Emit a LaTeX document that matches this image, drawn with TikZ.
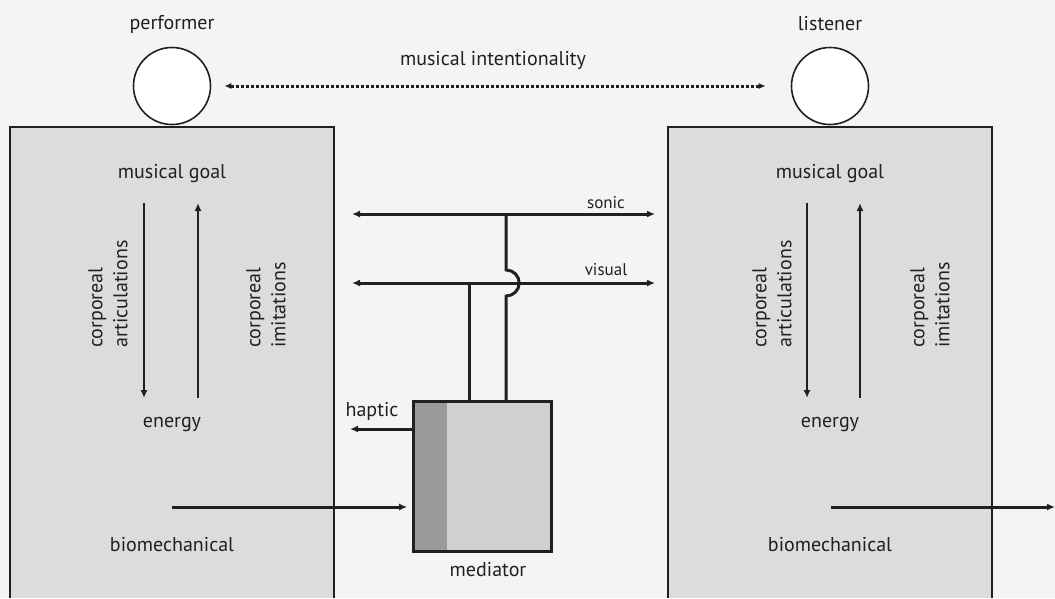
\documentclass[tikz,border=0pt]{standalone}
\usepackage{fontspec}
\setmainfont{PT Sans}
\usetikzlibrary{arrows.meta}
\definecolor{bg}{HTML}{F4F4F4}
\definecolor{bodyfill}{HTML}{DCDCDC}
\definecolor{medlight}{HTML}{D0D0D0}
\definecolor{meddark}{HTML}{9A9A9A}
\definecolor{ink}{HTML}{231F20}
\begin{document}
\begin{tikzpicture}[x=1pt,y=-1pt,
  lbl/.style={font=\fontsize{20}{25}\selectfont, text=ink, inner sep=0pt},
  smalllbl/.style={font=\fontsize{17}{20}\selectfont, text=ink, inner sep=0pt},
  conn/.style={draw=ink, line width=3pt},
  tipend/.style={-{Latex[length=8pt,width=7pt]}},
  tipboth/.style={{Latex[length=8pt,width=7pt]}-{Latex[length=8pt,width=7pt]}},
  head/.style={circle, draw=ink, fill=white, line width=1.6pt, minimum size=77pt, inner sep=0pt},
  bodyedge/.style={draw=ink, line width=1.6pt}]
% canvas
\fill[bg] (0,0) rectangle (1055,598);
\useasboundingbox (0,0) rectangle (1055,598);

% bodies (open at the bottom)
\fill[bodyfill] (10,127) rectangle (334,598);
\draw[bodyedge] (10,598) -- (10,127) -- (334,127) -- (334,598);
\fill[bodyfill] (668,127) rectangle (992,598);
\draw[bodyedge] (668,598) -- (668,127) -- (992,127) -- (992,598);

% heads and names
\node[lbl] (performer) at (172,24) {performer};
\node[lbl] (listener) at (830,24) {listener};
\node[head] (phead) at (172,86) {};
\node[head] (lhead) at (830,86) {};
\draw[draw=ink, line width=3pt, dotted, {Latex[length=7pt,width=6pt]}-{Latex[length=7pt,width=6pt]}, shorten <=13pt, shorten >=25pt] (phead) -- (lhead);
\node[lbl] (intent) at (493,60) {musical intentionality};

% performer body
\node[lbl] (pgoal) at (172,174) {musical goal};
\node[lbl] (penergy) at (172,424) {energy};
\node[lbl] (pbio) at (172,545) {biomechanical};
\coordinate (pdtop) at (144,203);
\coordinate (pdbot) at (144,398);
\coordinate (putop) at (198,203);
\coordinate (pubot) at (198,398);
\draw[conn, line width=2.6pt, tipend] (pdtop) -- (pdbot);
\draw[conn, line width=2.6pt, tipend] (pubot) -- (putop);
\node[lbl, rotate=90, anchor=west, align=left] (partic) at (108,348) {corporeal\\articulations};
\node[lbl, rotate=90, anchor=west, align=left] (pimit) at (266,348) {corporeal\\imitations};

% listener body
\node[lbl] (lgoal) at (830,174) {musical goal};
\node[lbl] (lenergy) at (830,424) {energy};
\node[lbl] (lbio) at (830,545) {biomechanical};
\coordinate (ldtop) at (807,203);
\coordinate (ldbot) at (807,398);
\coordinate (lutop) at (860,203);
\coordinate (lubot) at (860,398);
\draw[conn, line width=2.6pt, tipend] (ldtop) -- (ldbot);
\draw[conn, line width=2.6pt, tipend] (lubot) -- (lutop);
\node[lbl, rotate=90, anchor=west, align=left] (lartic) at (772,348) {corporeal\\articulations};
\node[lbl, rotate=90, anchor=west, align=left] (limit) at (930,348) {corporeal\\imitations};

% mediator
\node[draw=ink, fill=medlight, line width=1.6pt, minimum width=137pt, minimum height=149pt, inner sep=0pt,
  path picture={\fill[meddark] (path picture bounding box.north west) rectangle ([xshift=33pt]path picture bounding box.south west);}]
  (med) at (482.5,476.5) {};
\draw[draw=ink, line width=1.6pt] (med.north west) rectangle (med.south east);
\node[lbl] (medlbl) at (488,570) {mediator};

% biomechanical drive into the mediator and out of the listener
\coordinate (pbiostart) at (172,507);
\draw[conn, tipend, shorten >=6pt] (pbiostart) -- (med.west |- pbiostart);
\coordinate (lbiostart) at (831,507);
\coordinate (lbioend) at (1055,507);
\draw[conn, tipend] (lbiostart) -- (lbioend);

% haptic feedback
\coordinate (hapticend) at (350,429);
\draw[conn, tipend] (med.west |- hapticend) -- (hapticend);
\node[lbl] (haptic) at (372,411) {haptic};

% sonic and visual channels
\coordinate (sonicL) at (352,214);
\coordinate (sonicR) at (655,214);
\coordinate (visualL) at (352,283);
\coordinate (visualR) at (655,283);
\draw[conn, tipboth] (sonicL) -- (sonicR);
\draw[conn, tipboth] (visualL) -- (visualR);
\node[smalllbl] (sonic) at (606,203) {sonic};
\node[smalllbl] (visual) at (606,270) {visual};

% mediator outputs
\coordinate (vfoot) at ([xshift=56pt]med.north west);
\coordinate (sfoot) at ([xshift=93pt]med.north west);
\draw[conn] (vfoot) -- (vfoot |- visualL);
\draw[conn] (sfoot) -- ([yshift=-13pt]sfoot |- visualL)
  arc[start angle=-90, end angle=90, radius=13pt]
  -- (sfoot |- sonicL);
\end{tikzpicture}
\end{document}
